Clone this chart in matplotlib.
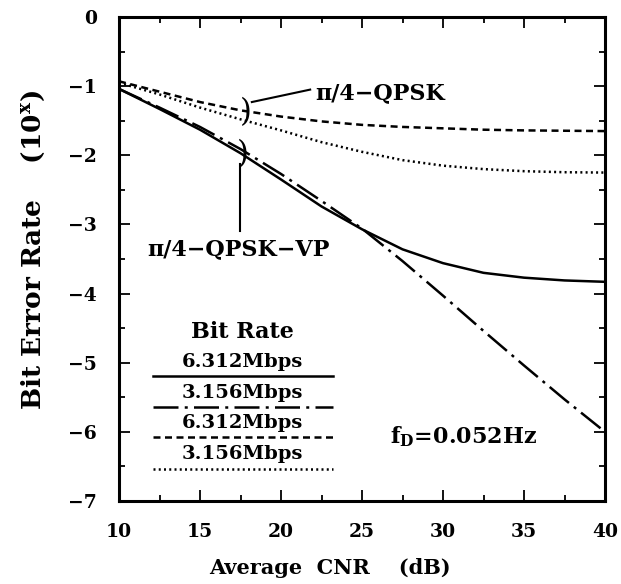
import matplotlib
matplotlib.use("Agg")
import matplotlib.pyplot as plt
from matplotlib.lines import Line2D

plt.rcParams['font.family'] = ['DejaVu Serif']
plt.rcParams['font.weight'] = 'bold'
plt.rcParams['mathtext.fontset'] = 'custom'
plt.rcParams['mathtext.rm'] = 'DejaVu Serif:bold'
plt.rcParams['mathtext.bf'] = 'DejaVu Serif:bold'
plt.rcParams['mathtext.it'] = 'DejaVu Serif:bold'

# ---- data ----
cnr = [10, 12.5, 15, 17.5, 20, 22.5, 25, 27.5, 30, 32.5, 35, 37.5, 40]
vp_6312 = [-1.04, -1.33, -1.63, -1.97, -2.35, -2.74, -3.07, -3.36, -3.56, -3.70, -3.77, -3.81, -3.83]
vp_3156 = [-1.04, -1.31, -1.59, -1.91, -2.27, -2.66, -3.06, -3.53, -4.03, -4.54, -5.04, -5.53, -6.00]
qpsk_6312 = [-0.93, -1.08, -1.23, -1.35, -1.44, -1.51, -1.56, -1.59, -1.61, -1.63, -1.64, -1.645, -1.65]
qpsk_3156 = [-0.95, -1.12, -1.31, -1.48, -1.64, -1.81, -1.95, -2.07, -2.15, -2.20, -2.23, -2.245, -2.25]

xticks = [10, 15, 20, 25, 30, 35, 40]
yticks = [0, -1, -2, -3, -4, -5, -6, -7]
legend_labels = ["6.312Mbps", "3.156Mbps", "6.312Mbps", "3.156Mbps"]

fig = plt.figure(figsize=(6.21, 5.84), dpi=100)
ax = fig.add_axes([119/621, 1 - 501/584, (605-119)/621, (501-17)/584])

lw = 1.8
styles = [
    dict(linestyle='-'),
    dict(linestyle=(0, (10, 2.5, 1.2, 2.5))),
    dict(linestyle=(0, (2.8, 1.8))),
    dict(linestyle=(0, (0.8, 1.3))),
]
series = [vp_6312, vp_3156, qpsk_6312, qpsk_3156]
for s, st in zip(series, styles):
    ax.plot(cnr, s, color='black', lw=lw, **st)

ax.set_xlim(10, 40)
ax.set_ylim(-7, 0)
ax.set_xticks(xticks)
ax.set_yticks(yticks)
ax.set_xticks([12.5, 17.5, 22.5, 27.5, 32.5, 37.5], minor=True)
ax.set_yticks([-0.5, -1.5, -2.5, -3.5, -4.5, -5.5, -6.5], minor=True)
ax.tick_params(which='both', direction='in', top=True, right=True, width=1.3)
ax.tick_params(which='major', length=8, labelsize=13.5)
ax.tick_params(which='minor', length=4)
ax.set_yticklabels([('−' + str(-t)) if t != 0 else '0' for t in yticks])
ax.set_xticklabels([str(t) for t in xticks])
ax.tick_params(axis='x', pad=16)
ax.tick_params(axis='y', pad=16)
for sp in ax.spines.values():
    sp.set_linewidth(2.2)

fig.text(330/621, 1 - 568/584, "Average  CNR    (dB)", fontsize=15, fontweight='bold',
         ha='center', va='center')
fig.text(33/621, 1 - 250/584, r"Bit Error Rate    (10$^{\mathbf{x}}$)", fontsize=19,
         fontweight='bold', ha='center', va='center', rotation=90)

# annotations
ax.text(17.8, -1.385, ")", fontsize=22, fontweight='normal', ha='center', va='center')
ax.plot([18.2, 21.8], [-1.23, -1.05], color='black', lw=1.5)
ax.text(22.1, -1.10, "π/4−QPSK", fontsize=16, fontweight='bold', ha='left', va='center')

ax.text(17.65, -1.99, ")", fontsize=22, fontweight='normal', ha='center', va='center')
ax.plot([17.47, 17.47], [-2.12, -3.1], color='black', lw=1.5)
ax.text(17.4, -3.36, "π/4−QPSK−VP", fontsize=16, fontweight='bold', ha='center', va='center')

# manual legend
ax.text(17.65, -4.55, "Bit Rate", fontsize=16, fontweight='bold', ha='center', va='center')
lab_y = [362, 393, 423, 454]
line_y = [376, 407, 437, 469]
for lab, ly, ky, st in zip(legend_labels, lab_y, line_y, styles):
    ax.text(0.254, (501 - ly)/484, lab, transform=ax.transAxes, fontsize=14,
            fontweight='bold', ha='center', va='center')
    ax.add_line(Line2D([0.07, 0.44], [(501 - ky)/484]*2, transform=ax.transAxes,
                       color='black', lw=lw, **st))

ax.text(26.7, -6.07, r"f$_{\mathrm{D}}$=0.052Hz", fontsize=16, fontweight='bold', ha='left', va='center')

fig.savefig("out.png", dpi=100)
